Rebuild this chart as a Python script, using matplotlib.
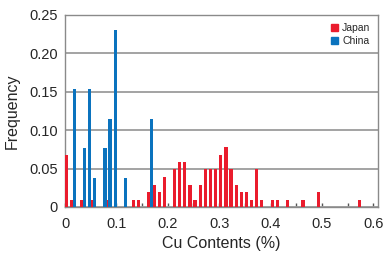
import matplotlib
matplotlib.use('Agg')
import matplotlib.pyplot as plt
from matplotlib.patches import Patch

plt.rcParams['font.family'] = ['Liberation Sans', 'DejaVu Sans']

# Data: bin start (Cu %), frequency
japan_bins = [0.00, 0.01, 0.03, 0.05, 0.08, 0.13, 0.14, 0.16, 0.17, 0.18, 0.19,
              0.21, 0.22, 0.23, 0.24, 0.25, 0.26, 0.27, 0.28, 0.29, 0.30, 0.31,
              0.32, 0.33, 0.34, 0.35, 0.36, 0.37, 0.38, 0.40, 0.41, 0.43, 0.46,
              0.49, 0.57]
japan_freq = [0.068, 0.0097, 0.0097, 0.0097, 0.0097, 0.0097, 0.0097, 0.019, 0.029,
              0.019, 0.039, 0.049, 0.058, 0.058, 0.029, 0.0097, 0.029, 0.049,
              0.049, 0.049, 0.068, 0.078, 0.049, 0.029, 0.019, 0.019, 0.0097,
              0.049, 0.0097, 0.0097, 0.0097, 0.0097, 0.0097, 0.019, 0.0097]
china_bins = [0.01, 0.03, 0.04, 0.05, 0.07, 0.08, 0.09, 0.11, 0.16]
china_freq = [0.154, 0.077, 0.154, 0.038, 0.077, 0.115, 0.231, 0.038, 0.115]

xticks = [0, 0.1, 0.2, 0.3, 0.4, 0.5, 0.6]
xtick_labels = ['0', '0.1', '0.2', '0.3', '0.4', '0.5', '0.6']
xminor = [0.05, 0.15, 0.25, 0.35, 0.45, 0.55]
yticks = [0, 0.05, 0.10, 0.15, 0.20, 0.25]
ytick_labels = ['0', '0.05', '0.10', '0.15', '0.20', '0.25']

red = '#ea1c2d'
blue = '#0b73be'
txt = '#262626'

fig = plt.figure(figsize=(3.88, 2.56), dpi=100)
ax = fig.add_axes([65 / 388, 1 - 207 / 256, 313 / 388, 192 / 256])

ax.bar(japan_bins, japan_freq, width=0.0062, align='edge', color=red,
       edgecolor='none', zorder=3)
ax.bar([b + 0.0046 for b in china_bins], china_freq, width=0.0064, align='edge',
       color=blue, edgecolor='none', zorder=4)

ax.set_xlim(0, 0.609)
ax.set_ylim(0, 0.25)
ax.set_xticks(xticks)
ax.set_xticklabels(xtick_labels)
ax.set_xticks(xminor, minor=True)
ax.set_yticks(yticks)
ax.set_yticklabels(ytick_labels)
ax.tick_params(axis='x', which='both', direction='in', length=3, width=1,
               color='#555555', pad=7, labelsize=10.5, labelcolor=txt)
ax.tick_params(axis='y', which='both', direction='in', length=0, pad=5,
               labelsize=10.5, labelcolor=txt)
ax.yaxis.grid(True, color='#9c9c9c', lw=1.3, zorder=0)
ax.set_axisbelow(True)
for s in ax.spines.values():
    s.set_color('#8a8a8a')
    s.set_linewidth(1.0)

ax.set_xlabel('Cu Contents (%)', fontsize=11.5, color=txt, labelpad=4)
ax.set_ylabel('Frequency', fontsize=11.5, color=txt, labelpad=7)

handles = [Patch(color=red, label='Japan'), Patch(color=blue, label='China')]
fig.legend(handles=handles, loc='upper left', bbox_to_anchor=(0.84, 0.93),
           frameon=False, fontsize=7.5, handlelength=0.65, handleheight=0.65,
           handletextpad=0.4, labelspacing=0.3, borderpad=0,
           labelcolor=txt)

fig.savefig('out.png', dpi=100)
